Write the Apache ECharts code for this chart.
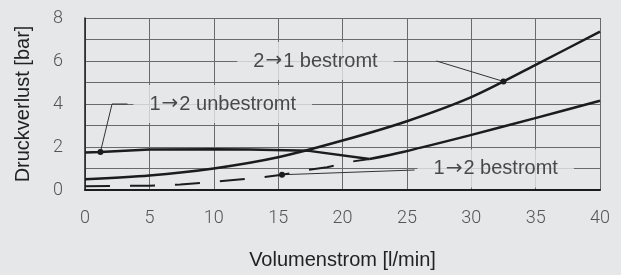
<!DOCTYPE html>
<html>
<head>
<meta charset="utf-8">
<script src="https://cdn.jsdelivr.net/npm/echarts@6/dist/echarts.min.js"></script>
<style>
  html, body { margin: 0; padding: 0; background: #e6e7e9; }
  #chart { width: 621px; height: 275px; }
</style>
</head>
<body>
<div id="chart"></div>
<script>
// 2->1 bestromt (obere Kurve)
const flow21 = [0, 5, 10, 15, 20, 25, 30, 35, 40]
const druck21 = [0.5, 0.67, 1.0, 1.52, 2.3, 3.2, 4.32, 5.82, 7.37]
// 1->2 unbestromt
const flowUnb = [0, 1.2, 5, 10, 12.8, 17.4, 22.1]
const druckUnb = [1.74, 1.77, 1.88, 1.9, 1.88, 1.82, 1.44]
// 1->2 bestromt, durchgezogen
const flow12 = [22.1, 24.7, 29.8, 34.9, 40]
const druck12 = [1.44, 1.77, 2.53, 3.33, 4.15]
// 1->2 bestromt, gestrichelt
const flowDash = [0, 5, 7.4, 9.5, 11.1, 13.3, 15.3, 17.4, 18.8, 20.7, 22.1]
const druckDash = [0.18, 0.2, 0.26, 0.35, 0.44, 0.56, 0.71, 0.94, 1.06, 1.32, 1.44]

const xTicks = [0, 5, 10, 15, 20, 25, 30, 35, 40]
const yTicks = [0, 2, 4, 6, 8]

// Beschriftungen und Hinweislinien
const labelTexts = [["2", "1 bestromt"], ["1", "2 unbestromt"], ["1", "2 bestromt"]]
const labelPos = [[17.9, 6], [10.7, 4], [31.9, 1]]
const pointer21 = [[27.3, 6], [32.5, 5.05]]
const pointerUnb = [[1.2, 1.77], [2.1, 4], [3.3, 4]]
const pointer12 = [[15.3, 0.71], [25.6, 0.93]]

const bg = "#e6e7e9"
const ink = "#1c1c1c"
const zip = (xs, ys) => xs.map((x, i) => [x, ys[i]])

const chart = echarts.init(document.getElementById("chart"))

function pointerSeries(pts, dotIndex) {
  return {
    type: "line",
    data: pts.map((p, i) => ({
      value: p,
      symbol: i === dotIndex ? "circle" : "none",
      symbolSize: 6,
    })),
    lineStyle: { color: "#333", width: 1 },
    itemStyle: { color: ink },
    silent: true,
    z: 3,
  }
}

const tickFont = {
  fontFamily: "Roboto",
  fontWeight: 300,
  fontSize: 18,
  color: "#555",
}

chart.setOption({
  backgroundColor: bg,
  animation: false,
  grid: { left: 85, right: 21, top: 18, bottom: 81 },
  xAxis: {
    type: "value",
    min: 0,
    max: 40,
    interval: 5,
    name: "Volumenstrom [l/min]",
    nameLocation: "middle",
    nameGap: 60,
    nameTextStyle: { fontFamily: "Liberation Sans", fontSize: 20, color: "#222" },
    axisLine: { show: true, lineStyle: { color: ink, width: 2 } },
    axisTick: { show: false },
    axisLabel: Object.assign({ margin: 19, formatter: (v) => (xTicks.includes(v) ? String(v) : "") }, tickFont),
    splitLine: { show: true, lineStyle: { color: "#6a6a6a", width: 1 } },
  },
  yAxis: {
    type: "value",
    min: 0,
    max: 8,
    interval: 1,
    name: "Druckverlust [bar]",
    nameLocation: "middle",
    nameGap: 52,
    nameTextStyle: { fontFamily: "Liberation Sans", fontSize: 20, color: "#222" },
    axisLine: { show: true, lineStyle: { color: ink, width: 1.5 } },
    axisTick: { show: false },
    axisLabel: Object.assign({ margin: 22, formatter: (v) => (yTicks.includes(v) ? String(v) : "") }, tickFont),
    splitLine: { show: true, lineStyle: { color: "#6a6a6a", width: 1 } },
  },
  series: [
    {
      type: "line",
      data: zip(flow21, druck21),
      smooth: 0.3,
      showSymbol: false,
      lineStyle: { color: ink, width: 2.5 },
      z: 4,
    },
    {
      type: "line",
      data: zip(flowUnb, druckUnb),
      showSymbol: false,
      lineStyle: { color: ink, width: 2.5 },
      z: 4,
    },
    {
      type: "line",
      data: zip(flow12, druck12),
      smooth: 0.3,
      showSymbol: false,
      lineStyle: { color: ink, width: 2.5 },
      z: 4,
    },
    {
      type: "line",
      data: zip(flowDash, druckDash),
      showSymbol: false,
      lineStyle: { color: ink, width: 2, type: [25, 20] },
      z: 4,
    },
    pointerSeries(pointer21, 1),
    pointerSeries(pointerUnb, 0),
    pointerSeries(pointer12, 0),
    {
      type: "scatter",
      data: labelPos.map((p, i) => ({ value: p, name: labelTexts[i].join("|") })),
      symbolSize: 1,
      itemStyle: { color: "rgba(0,0,0,0)" },
      silent: true,
      z: 5,
      label: {
        show: true,
        position: "inside",
        formatter: (p) => {
          const parts = p.name.split("|")
          return "{t|" + parts[0] + "}{a|\u2192}{t|" + parts[1] + "}"
        },
        backgroundColor: bg,
        padding: [9, 16],
        rich: {
          t: { fontFamily: "Liberation Sans", fontSize: 20, color: "#222" },
          a: { fontFamily: "DejaVu Sans", fontSize: 20, color: "#222", padding: [0, 1] },
        },
      },
    },
  ],
})
</script>
</body>
</html>
